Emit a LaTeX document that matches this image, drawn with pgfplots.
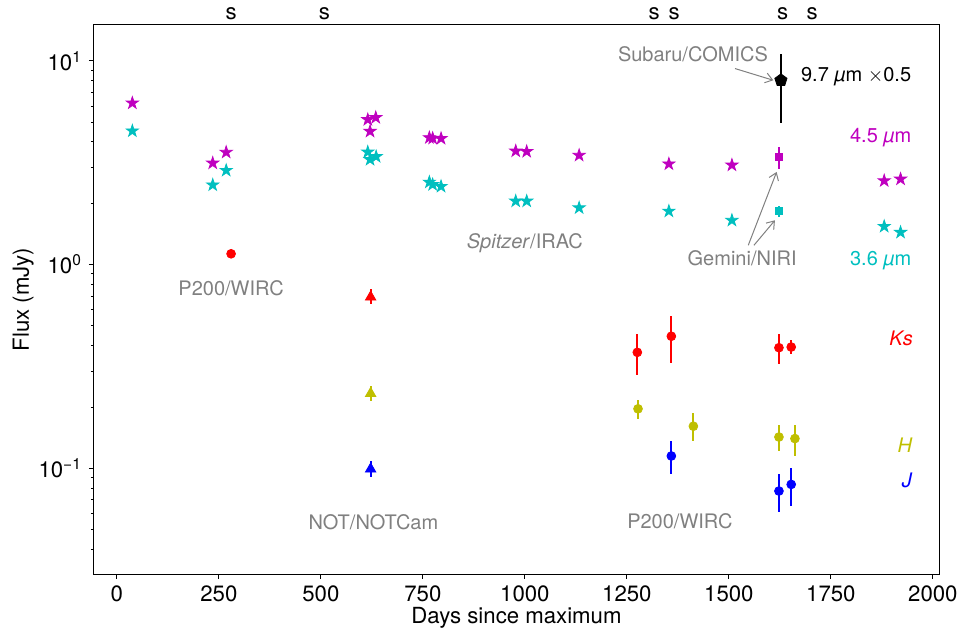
\documentclass[border=0pt]{standalone}
\usepackage{pgfplots}
\pgfplotsset{compat=1.18}
\usepackage{fontspec}
\setmainfont{TeX Gyre Heros}
\usetikzlibrary{plotmarks,arrows.meta}
\definecolor{cmag}{rgb}{0.75,0,0.75}
\definecolor{ccya}{rgb}{0,0.75,0.75}
\definecolor{cyel}{rgb}{0.75,0.75,0}
\definecolor{cgry}{rgb}{0.5,0.5,0.5}
\newcommand\fsz{\fontsize{11.1}{13}\selectfont}
\newcommand\asz{\fontsize{10}{12}\selectfont}
\pgfdeclareplotmark{fstar}{%
 \pgfpathmoveto{\pgfpointpolar{90}{\pgfplotmarksize}}%
 \pgfpathlineto{\pgfpointpolar{126}{0.382\pgfplotmarksize}}%
 \pgfpathlineto{\pgfpointpolar{162}{\pgfplotmarksize}}%
 \pgfpathlineto{\pgfpointpolar{198}{0.382\pgfplotmarksize}}%
 \pgfpathlineto{\pgfpointpolar{234}{\pgfplotmarksize}}%
 \pgfpathlineto{\pgfpointpolar{270}{0.382\pgfplotmarksize}}%
 \pgfpathlineto{\pgfpointpolar{306}{\pgfplotmarksize}}%
 \pgfpathlineto{\pgfpointpolar{342}{0.382\pgfplotmarksize}}%
 \pgfpathlineto{\pgfpointpolar{18}{\pgfplotmarksize}}%
 \pgfpathlineto{\pgfpointpolar{54}{0.382\pgfplotmarksize}}%
 \pgfpathclose
 \pgfusepathqfillstroke
}
\pgfplotstableread{
x y
38 6.21
235 3.15
268 3.56
615 5.15
634.6 5.27
620.6 4.51
766 4.20
774 4.17
794.6 4.16
977.6 3.61
1004.5 3.59
1133 3.44
1353 3.12
1507.5 3.08
1880.7 2.58
1920.8 2.63
}\irackf
\pgfplotstableread{
x y
38 4.53
235 2.46
268 2.90
615 3.57
620.6 3.28
635.5 3.39
766 2.54
774 2.47
794.6 2.42
977.6 2.05
1004.5 2.05
1133 1.90
1353 1.83
1507.5 1.65
1880.7 1.54
1920.8 1.44
}\iracth
\pgfplotstableread{
x y ep em
1275.6 0.371 0.084 0.085
1359 0.445 0.112 0.115
1622.7 0.391 0.064 0.067
1652.8 0.394 0.031 0.030
}\wircK
\pgfplotstableread{
x y ep em
1277.3 0.196 0.021 0.021
1413 0.161 0.025 0.025
1622.7 0.1425 0.0215 0.021
1661.9 0.140 0.024 0.025
}\wircH
\pgfplotstableread{
x y ep em
1359 0.115 0.021 0.0208
1622.7 0.0774 0.0161 0.0166
1652.8 0.0834 0.0174 0.0184
}\wircJ
\pgfplotstableread{
x y ep em
622 0.693 0.069 0.054
}\notK
\pgfplotstableread{
x y ep em
622 0.233 0.020 0.020
}\notH
\pgfplotstableread{
x y ep em
622 0.0992 0.0094 0.0086
}\notJ
\begin{document}
\begin{tikzpicture}[font=\fsz]
\useasboundingbox (-47pt,-28.5pt) rectangle (432.5pt,287pt);
\begin{axis}[
 at={(0,0)}, anchor=south west,
 scale only axis, width=422.5pt, height=274.5pt,
 ymode=log, xmin=-56, xmax=2015, ymin=0.0303, ymax=15,
 clip=false,
 axis line style={line width=0.5pt},
 xtick={0,250,...,2000},
 ytick={0.1,1,10},
 yticklabels={10\textsuperscript{−1},10\textsuperscript{0},10\textsuperscript{1}},
 minor ytick={0.04,0.05,0.06,0.07,0.08,0.09,0.2,0.3,0.4,0.5,0.6,0.7,0.8,0.9,2,3,4,5,6,7,8,9},
 xtick pos=bottom, ytick pos=left,
 tick align=outside,
 major tick length=2.5pt, minor tick length=1.5pt,
 tick style={black, line width=0.5pt},
 /pgf/number format/assume math mode=true,
 /pgf/number format/1000 sep={},
 tick label style={font=\fsz},
 xlabel={Days since maximum}, ylabel={Flux (mJy)},
 every axis x label/.style={at={(axis description cs:0.5,-0.06)}, anchor=north, font=\fsz, inner sep=0pt},
 every axis y label/.style={at={(axis description cs:-0.071,0.5)}, anchor=south, rotate=90, font=\fsz, inner sep=0pt},
]
% Spitzer
\addplot[only marks, mark=fstar, mark size=3.2pt, color=cmag, mark options={fill=cmag, draw=cmag}] table[x=x,y=y] {\irackf};
\addplot[only marks, mark=fstar, mark size=3.2pt, color=ccya, mark options={fill=ccya, draw=ccya}] table[x=x,y=y] {\iracth};
% Gemini
\addplot[only marks, mark=square*, mark size=1.8pt, color=cmag, mark options={fill=cmag},
 error bars/.cd, y dir=both, y explicit, error mark=none, error bar style={line width=1pt, cmag}]
 coordinates {(1623.5,3.38) += (0,0.40) -= (0,0.42)};
\addplot[only marks, mark=square*, mark size=1.8pt, color=ccya, mark options={fill=ccya},
 error bars/.cd, y dir=both, y explicit, error mark=none, error bar style={line width=1pt, ccya}]
 coordinates {(1623.5,1.83) += (0,0.10) -= (0,0.12)};
% Subaru
\addplot[only marks, mark=pentagon*, mark size=3.2pt, color=black, mark options={fill=black},
 error bars/.cd, y dir=both, y explicit, error mark=none, error bar style={line width=1pt, black}]
 coordinates {(1627.6,8.03) += (0,2.83) -= (0,3.05)};
% P200 early
\addplot[only marks, mark=*, mark size=2.2pt, color=red, mark options={fill=red}] coordinates {(280,1.13)};
% NOT
\addplot[only marks, mark=triangle*, mark size=3pt, color=red, mark options={fill=red},
 error bars/.cd, y dir=both, y explicit, error mark=none, error bar style={line width=1pt, red}]
 table[x=x,y=y,y error plus=ep,y error minus=em] {\notK};
\addplot[only marks, mark=triangle*, mark size=3pt, color=cyel, mark options={fill=cyel},
 error bars/.cd, y dir=both, y explicit, error mark=none, error bar style={line width=1pt, cyel}]
 table[x=x,y=y,y error plus=ep,y error minus=em] {\notH};
\addplot[only marks, mark=triangle*, mark size=3pt, color=blue, mark options={fill=blue},
 error bars/.cd, y dir=both, y explicit, error mark=none, error bar style={line width=1pt, blue}]
 table[x=x,y=y,y error plus=ep,y error minus=em] {\notJ};
% P200 late
\addplot[only marks, mark=*, mark size=2.2pt, color=red, mark options={fill=red},
 error bars/.cd, y dir=both, y explicit, error mark=none, error bar style={line width=1pt, red}]
 table[x=x,y=y,y error plus=ep,y error minus=em] {\wircK};
\addplot[only marks, mark=*, mark size=2.2pt, color=cyel, mark options={fill=cyel},
 error bars/.cd, y dir=both, y explicit, error mark=none, error bar style={line width=1pt, cyel}]
 table[x=x,y=y,y error plus=ep,y error minus=em] {\wircH};
\addplot[only marks, mark=*, mark size=2.2pt, color=blue, mark options={fill=blue},
 error bars/.cd, y dir=both, y explicit, error mark=none, error bar style={line width=1pt, blue}]
 table[x=x,y=y,y error plus=ep,y error minus=em] {\wircJ};
% text labels
\begin{scope}[every node/.style={font=\asz, inner sep=0pt}]
\node[cgry, anchor=base] at (axis cs:280,0.705) {P200/WIRC};
\node[cgry, anchor=base] at (axis cs:1000,1.198) {\textit{Spitzer}/IRAC};
\node[cgry, anchor=base east] at (axis cs:1596.5,9.96) {Subaru/COMICS};
\node[black, anchor=base west] at (axis cs:1676,7.94) {9.7 \textit{µ}m $\times$0.5};
\node[cmag, anchor=base east] at (axis cs:1948,3.97) {4.5 \textit{µ}m};
\node[ccya, anchor=base east] at (axis cs:1948,0.992) {3.6 \textit{µ}m};
\node[cgry, anchor=base] at (axis cs:1532.5,0.992) {Gemini/NIRI};
\node[red, anchor=base east] at (axis cs:1951.8,0.401) {\textit{Ks}};
\node[cyel, anchor=base east] at (axis cs:1951,0.1202) {\textit{H}};
\node[blue, anchor=base east] at (axis cs:1951,0.0804) {\textit{J}};
\node[cgry, anchor=base] at (axis cs:628.7,0.0502) {NOT/NOTCam};
\node[cgry, anchor=base] at (axis cs:1380,0.0505) {P200/WIRC};
\end{scope}
% arrows
\draw[cgry, line width=0.5pt, -{Straight Barb[length=3.5pt,width=5pt]}] (axis cs:1515,9.17) -- (axis cs:1609,8.03);
\draw[cgry, line width=0.5pt, -{Straight Barb[length=3.5pt,width=5pt]}] (axis cs:1547.5,1.244) -- (axis cs:1617,2.85);
\draw[cgry, line width=0.5pt, -{Straight Barb[length=3.5pt,width=5pt]}] (axis cs:1561.4,1.244) -- (axis cs:1612.9,1.65);
% spectra epochs
\node[anchor=base, inner sep=0pt] at ([yshift=2.5pt]axis cs:280,15) {s};
\node[anchor=base, inner sep=0pt] at ([yshift=2.5pt]axis cs:509,15) {s};
\node[anchor=base, inner sep=0pt] at ([yshift=2.5pt]axis cs:1317,15) {s};
\node[anchor=base, inner sep=0pt] at ([yshift=2.5pt]axis cs:1366,15) {s};
\node[anchor=base, inner sep=0pt] at ([yshift=2.5pt]axis cs:1632,15) {s};
\node[anchor=base, inner sep=0pt] at ([yshift=2.5pt]axis cs:1704,15) {s};
\end{axis}
\end{tikzpicture}
\end{document}
